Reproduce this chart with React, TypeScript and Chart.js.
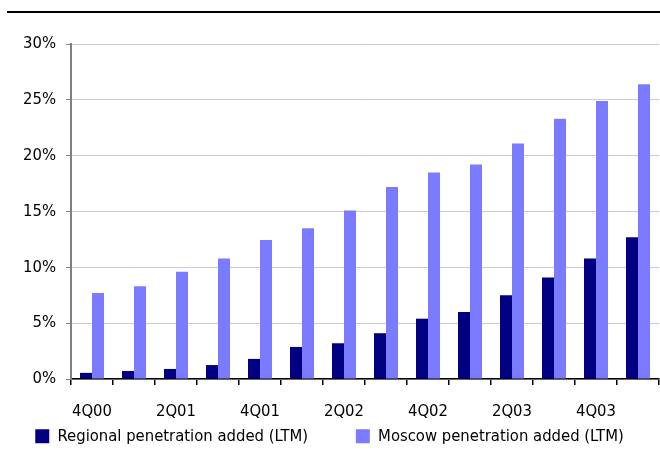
import React, { useEffect, useRef } from "react";
import { Chart, registerables } from "chart.js";

Chart.register(...registerables);

const quarters = [
  "4Q00", "1Q01", "2Q01", "3Q01", "4Q01", "1Q02", "2Q02",
  "3Q02", "4Q02", "1Q03", "2Q03", "3Q03", "4Q03", "1Q04",
];

// Penetration added over the last twelve months, in percent
const regionalAdded = [0.55, 0.72, 0.9, 1.25, 1.8, 2.87, 3.2, 4.1, 5.4, 6.0, 7.5, 9.1, 10.8, 12.7];
const moscowAdded = [7.7, 8.3, 9.6, 10.8, 12.45, 13.5, 15.1, 17.2, 18.5, 19.2, 21.1, 23.3, 24.9, 26.4];

const yTicks = [0, 5, 10, 15, 20, 25, 30];

// "condensed" lands in the canvas font shorthand as the font-stretch keyword
const LABEL_FONT = { family: "'DejaVu Sans', sans-serif", size: 16.5, weight: "condensed" as any };

const topRule = {
  id: "topRule",
  afterDraw(chart: Chart) {
    const ctx = chart.ctx;
    ctx.save();
    ctx.fillStyle = "#000";
    ctx.fillRect(7, 11, chart.width - 7, 2);
    ctx.restore();
  },
};

export default function App() {
  const ref = useRef<HTMLCanvasElement | null>(null);

  useEffect(() => {
    if (!ref.current) return;
    const chart = new Chart(ref.current, {
      type: "bar",
      data: {
        labels: quarters,
        datasets: [
          {
            label: "Regional penetration added (LTM)",
            data: regionalAdded,
            backgroundColor: "#000080",
            categoryPercentage: 24 / 42,
            barPercentage: 1,
          },
          {
            label: "Moscow penetration added (LTM)",
            data: moscowAdded,
            backgroundColor: "#7b7bff",
            categoryPercentage: 24 / 42,
            barPercentage: 1,
          },
        ],
      },
      options: {
        responsive: false,
        animation: false,
        layout: { padding: { top: 44, right: 1, left: 0, bottom: 0 } },
        plugins: {
          tooltip: { enabled: false },
          legend: {
            position: "bottom",
            maxHeight: 32,
            labels: {
              boxWidth: 14,
              boxHeight: 14,
              padding: 10,
              color: "#000",
              font: LABEL_FONT,
              // widen the gap between the two legend entries
              generateLabels: (c: Chart) => {
                const items = Chart.defaults.plugins.legend.labels.generateLabels(c);
                return items.map((it: any, i: number) =>
                  i === 0 ? { ...it, text: it.text + "\u00a0".repeat(8) } : it
                );
              },
            },
          },
        },
        scales: {
          x: {
            afterFit: (scale: any) => {
              scale.height = 39;
            },
            grid: {
              offset: true,
              drawOnChartArea: false,
              drawTicks: true,
              tickLength: 6,
              tickColor: "#000",
              lineWidth: 1.5,
            },
            border: { color: "#000", width: 1.5 },
            ticks: {
              autoSkip: false,
              maxRotation: 0,
              padding: 17,
              color: "#000",
              font: LABEL_FONT,
              callback: (_v: any, i: number) => (i % 2 === 0 ? quarters[i] : ""),
            },
          },
          y: {
            min: 0,
            max: 30,
            afterBuildTicks: (scale: any) => {
              scale.ticks = yTicks.map((v) => ({ value: v }));
            },
            afterFit: (scale: any) => {
              scale.width = 71;
            },
            grid: {
              color: "#cccccc",
              lineWidth: 1,
              tickLength: 5,
              tickColor: "#808080",
            },
            border: { color: "#808080", width: 2 },
            ticks: {
              padding: 10,
              color: "#000",
              font: LABEL_FONT,
              callback: (v: any) => v + "%",
            },
          },
        },
      },
      plugins: [topRule],
    });
    return () => chart.destroy();
  }, []);

  return (
    <div style={{ position: "fixed", left: 0, top: 0, width: 660, height: 450, background: "#fff" }}>
      <canvas ref={ref} width={660} height={450} />
    </div>
  );
}
